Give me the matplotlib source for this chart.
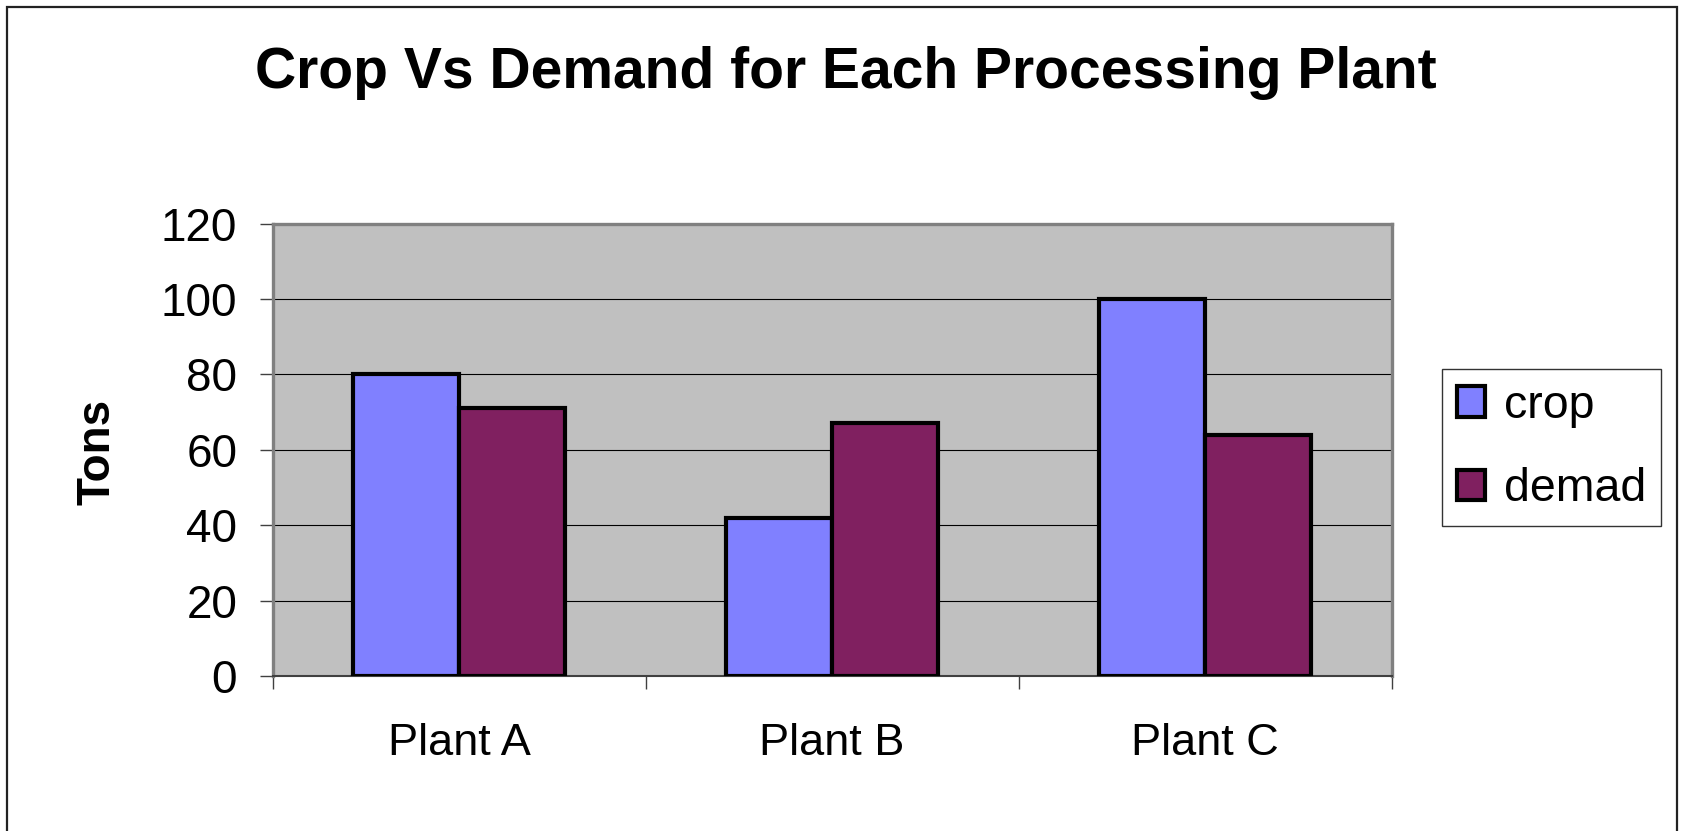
import numpy as np
import matplotlib
matplotlib.use('Agg')
import matplotlib.pyplot as plt
from matplotlib.patches import Rectangle

plt.rcParams['font.family'] = ['Liberation Sans', 'DejaVu Sans']

# datos de cada planta
plantas = ['Plant A', 'Plant B', 'Plant C']
crop = [80, 42, 100]
demanda = [71, 67, 64]
series = ['crop', 'demad']
colores = ['#8080FF', '#802060']

fig = plt.figure(figsize=(16.85, 8.31), dpi=100)
ax = fig.add_axes([0.1618, 0.1865, 0.6641, 0.5445])

x = np.arange(len(plantas))
ancho = 0.285
for i, (vals, nombre, color) in enumerate(zip([crop, demanda], series, colores)):
    ax.bar(x + (i - 0.5) * ancho, vals, ancho, color=color, edgecolor='black',
           linewidth=3, label=nombre, zorder=3)

ax.set_facecolor('#C0C0C0')
ax.set_xlim(-0.5, 2.5)
ax.set_ylim(0, 120)
ax.set_yticks(np.arange(0, 121, 20))
ax.yaxis.grid(True, color='black', linewidth=0.8, zorder=1)
ax.set_axisbelow(True)

# marcas entre categorias, etiquetas centradas
ax.set_xticks([-0.5, 0.5, 1.5, 2.5])
ax.set_xticklabels([])
ax.set_xticks(x, minor=True)
ax.set_xticklabels(plantas, minor=True)
ax.tick_params(axis='x', which='minor', length=0, pad=34, labelsize=32.5)
ax.tick_params(axis='x', which='major', length=9.5, width=1, color='#404040')
ax.tick_params(axis='y', length=9.5, width=1, color='#404040', pad=16, labelsize=33)

for lado in ['top', 'right', 'left']:
    ax.spines[lado].set_color('#808080')
    ax.spines[lado].set_linewidth(2.4)
ax.spines['bottom'].set_color('#404040')
ax.spines['bottom'].set_linewidth(1.5)

fig.text(0.502, 0.8937, 'Crop Vs Demand for Each Processing Plant', ha='center',
         va='baseline', fontsize=41, fontweight='bold')
fig.text(97 / 1685, 0.4564, 'Tons', rotation=90, ha='center', va='center',
         fontsize=33, fontweight='bold')

leg = ax.legend(loc='upper left', bbox_to_anchor=(1441.7 / 1685, 1 - 369 / 831),
                bbox_transform=fig.transFigure, borderaxespad=0, fontsize=33.5,
                frameon=True, fancybox=False, handlelength=0.62, handleheight=0.62,
                handletextpad=0.4, labelspacing=0.85, borderpad=0.32)
leg.get_frame().set_edgecolor('black')
leg.get_frame().set_linewidth(1.0)

# marco exterior del grafico
fig.patches.append(Rectangle((7 / 1685, -0.02), 1670 / 1685, 1.02 - 7 / 831,
                             transform=fig.transFigure, fill=False,
                             edgecolor='#222222', linewidth=1.6))

fig.savefig('out.png', dpi=100)
